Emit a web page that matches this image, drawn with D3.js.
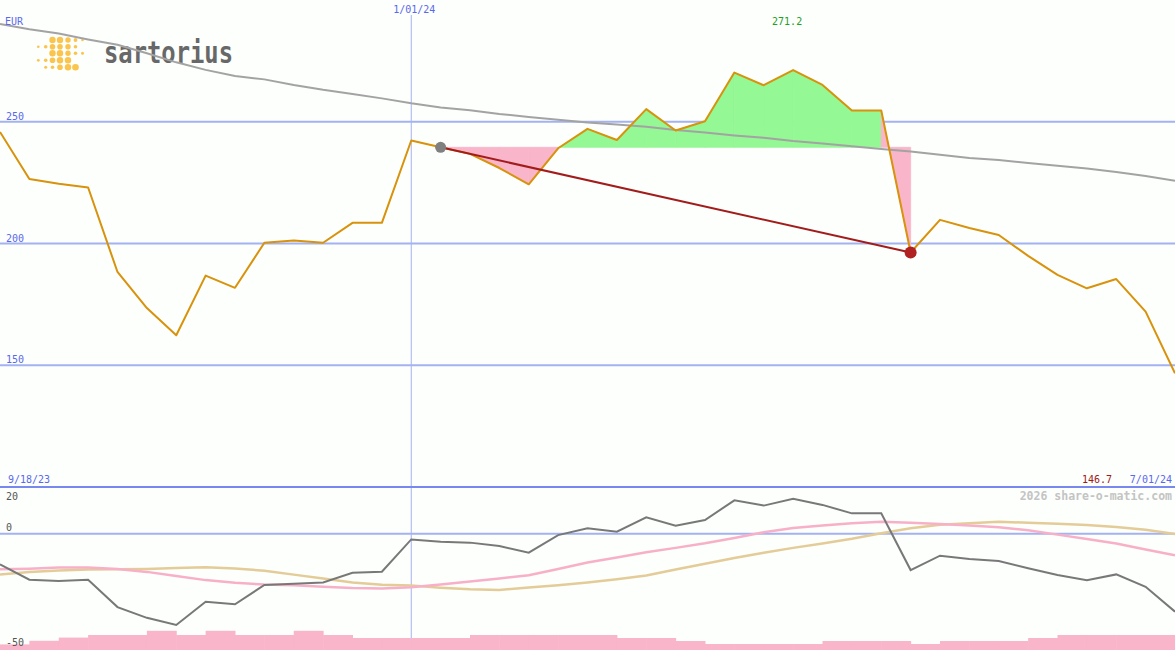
<!DOCTYPE html>
<html>
<head>
<meta charset="utf-8">
<script src="https://cdn.jsdelivr.net/npm/d3@7"></script>
<style>
  html, body { margin: 0; padding: 0; background: #fcfffc; }
  svg { display: block; }
  text { font-family: "DejaVu Sans Mono", monospace; }
</style>
</head>
<body>
<svg id="chart" width="1175" height="650"></svg>
<script>
// ---------------- DATA ----------------
const startDate = "2023-09-25";           // first weekly close
const weeks = 41;                          // weekly closes up to 2024-07-01
const price = [245.8, 226.5, 224.5, 223.0, 188.3, 173.5, 162.3, 186.8, 181.8, 200.3,
               201.2, 200.3, 208.5, 208.5, 242.3, 239.5, 236.8, 231.0, 224.3, 239.1,
               247.1, 242.5, 255.2, 246.4, 250.2, 270.2, 265.0, 271.2, 265.1, 254.6,
               254.6, 196.3, 209.7, 206.4, 203.5, 194.9, 187.1, 181.6, 185.4, 172.0, 146.7];
const movingAvg = [290.1, 288.0, 286.2, 283.8, 281.6, 278.1, 274.4, 271.3, 268.8, 267.4,
                   265.1, 263.1, 261.4, 259.6, 257.6, 255.9, 254.7, 253.2, 252.0, 250.8,
                   249.7, 248.9, 247.9, 246.6, 245.6, 244.4, 243.4, 242.1, 241.1, 239.9,
                   238.8, 237.8, 236.4, 235.1, 234.3, 233.1, 231.9, 230.8, 229.4, 227.7, 225.8];
const oscillator = [-13.4, -20.1, -20.7, -20.1, -32.1, -36.8, -39.9, -29.8, -30.9, -22.4,
                    -21.9, -21.3, -17.1, -16.6, -2.5, -3.5, -3.9, -5.4, -8.3, -0.6,
                    2.4, 0.9, 7.2, 3.5, 6.0, 14.6, 12.3, 15.3, 12.6, 8.9,
                    8.9, -15.9, -9.6, -11.1, -11.9, -15.1, -18.1, -20.3, -17.8, -23.2, -34.1];
const signalFast = [-15.6, -15.3, -14.8, -14.8, -15.4, -16.7, -18.5, -20.3, -21.5, -22.2,
                    -22.6, -23.2, -23.8, -24.0, -23.4, -22.2, -20.9, -19.6, -18.2, -15.4,
                    -12.6, -10.4, -8.1, -6.2, -4.2, -1.9, 0.6, 2.5, 3.6, 4.6,
                    5.2, 4.8, 4.2, 3.6, 2.8, 1.5, -0.4, -2.3, -4.3, -6.9, -9.4];
const signalSlow = [-17.8, -16.8, -16.1, -15.7, -15.6, -15.4, -15.0, -14.7, -15.2, -16.2,
                    -17.9, -19.6, -21.3, -22.3, -22.7, -23.6, -24.3, -24.6, -23.5, -22.5,
                    -21.3, -19.9, -18.3, -15.7, -13.1, -10.6, -8.3, -6.2, -4.3, -2.2,
                    0.2, 2.4, 3.9, 4.6, 5.2, 4.8, 4.4, 3.8, 2.9, 1.7, -0.1];
const volume = [28, 46, 62, 75, 75, 96, 75, 96, 75, 75,
                96, 75, 60, 60, 60, 60, 75, 75, 75, 75,
                75, 60, 60, 45, 30, 30, 30, 30, 45, 45,
                45, 30, 45, 45, 45, 60, 75, 75, 75, 75];
const priceTicks = [250, 200, 150];
const oscTicks = [20, 0, -50];
const markerDate = "2024-01-01";
const markerLabel = "1/01/24";
const startLabel = "9/18/23";
const endLabel = "7/01/24";
const currency = "EUR";
const fromIndex = 15, toIndex = 31;
const brandName = "sartorius";
const credit = "2026 share-o-matic.com";

// ---------------- SETUP ----------------
const W = 1175, H = 650;
const svg = d3.select("#chart");
const parse = d3.utcParse("%Y-%m-%d");
const t0 = parse(startDate);
const dates = d3.range(weeks).map(i => d3.utcDay.offset(t0, i * 7));

const x = d3.scaleUtc().domain([dates[0], dates[weeks - 1]]).range([0, W]);
const y = d3.scaleLinear().domain([100, 300]).range([487, 0]);
const y2 = d3.scaleLinear().domain([-50, 20]).range([648, 488]);
const yv = d3.scaleLinear().domain([0, 100]).range([650, 630]);

svg.append("rect").attr("width", W).attr("height", H).attr("fill", "#fcfffc");

const blue = "#5a68ee";
const grid = "#a4b2f2";

// ---------- logo ----------
const logo = svg.append("g");
const dotCols = [38.3, 45.7, 52.5, 60, 68, 75.5, 82.5];
const dotRows = [40, 46.7, 53.3, 60.3, 67.3];
const dotPattern = [
  [0, 0, 3.2, 3.2, 2.7, 1.9, 1.3],
  [1.3, 1.8, 2.8, 2.8, 2.7, 1.8, 0],
  [0, 0, 3.2, 3.2, 2.7, 1.8, 1.5],
  [1.4, 1.8, 2.8, 3.2, 3.2, 0, 0],
  [0, 1.5, 1.8, 2.8, 3.2, 3.3, 0]
];
dotPattern.forEach((row, r) => {
  row.forEach((rad, c) => {
    if (rad > 0) logo.append("circle").attr("cx", dotCols[c]).attr("cy", dotRows[r]).attr("r", rad).attr("fill", "#fbc44c");
  });
});
logo.append("text").attr("x", 104).attr("y", 63).text(brandName)
  .attr("font-family", "Roboto, 'Open Sans', sans-serif").attr("font-weight", 700)
  .attr("font-size", 31).attr("fill", "#686868")
  .attr("textLength", 129).attr("lengthAdjust", "spacingAndGlyphs");

// ---------- grid ----------
svg.selectAll(".pgrid").data(priceTicks).enter().append("line")
  .attr("x1", 0).attr("x2", W).attr("y1", d => y(d)).attr("y2", d => y(d))
  .attr("stroke", grid).attr("stroke-width", 2);
svg.selectAll(".plab").data(priceTicks).enter().append("text")
  .attr("x", 6).attr("y", d => y(d) - 2).text(d => d)
  .attr("font-size", 10).attr("fill", blue);

const mx = x(parse(markerDate));
svg.append("line").attr("x1", mx).attr("x2", mx).attr("y1", 15).attr("y2", H)
  .attr("stroke", grid).attr("stroke-width", 1);

// separator
svg.append("line").attr("x1", 0).attr("x2", W).attr("y1", 487).attr("y2", 487)
  .attr("stroke", "#7888ee").attr("stroke-width", 2);

// ---------- fills ----------
const ref = price[fromIndex];
const area = d3.area().x(d => x(dates[d])).y0(y(ref)).y1(d => y(price[d]));
for (let i = fromIndex; i < toIndex; i++) {
  const mean = (price[i] + price[i + 1]) / 2;
  const col = mean >= ref ? "#94f894" : "#f9b5c9";
  svg.append("path").datum([i, i + 1]).attr("d", area)
    .attr("fill", col).attr("stroke", col).attr("stroke-width", 0.8);
}

// ---------- lines ----------
const idx = d3.range(weeks);
const lineOf = (arr, sc) => d3.line().x(i => x(dates[i])).y(i => sc(arr[i]));

svg.append("path").datum(idx).attr("d", lineOf(movingAvg, y))
  .attr("fill", "none").attr("stroke", "#a3a3a3").attr("stroke-width", 2);
svg.append("path").datum(idx).attr("d", lineOf(price, y))
  .attr("fill", "none").attr("stroke", "#d8920c").attr("stroke-width", 2)
  .attr("stroke-linejoin", "round");

svg.append("line")
  .attr("x1", x(dates[fromIndex])).attr("y1", y(price[fromIndex]))
  .attr("x2", x(dates[toIndex])).attr("y2", y(price[toIndex]))
  .attr("stroke", "#a31c1c").attr("stroke-width", 2);
svg.append("circle").attr("cx", x(dates[fromIndex])).attr("cy", y(price[fromIndex])).attr("r", 5.5).attr("fill", "#808080");
svg.append("circle").attr("cx", x(dates[toIndex])).attr("cy", y(price[toIndex])).attr("r", 6).attr("fill", "#b02222");

// ---------- top labels ----------
svg.append("text").attr("x", 5).attr("y", 25).text(currency).attr("font-size", 10).attr("fill", blue);
svg.append("text").attr("x", mx + 3).attr("y", 13).attr("text-anchor", "middle").text(markerLabel).attr("font-size", 10).attr("fill", blue);
const maxI = d3.maxIndex(price);
svg.append("text").attr("x", x(dates[maxI]) - 6).attr("y", 25).attr("text-anchor", "middle")
  .text(price[maxI].toFixed(1)).attr("font-size", 10).attr("fill", "#22a022");

svg.append("text").attr("x", 8).attr("y", 483).text(startLabel).attr("font-size", 10).attr("fill", blue);
svg.append("text").attr("x", 1172).attr("y", 483).attr("text-anchor", "end").text(endLabel).attr("font-size", 10).attr("fill", blue);
svg.append("text").attr("x", 1112).attr("y", 483).attr("text-anchor", "end")
  .text(price[weeks - 1].toFixed(1)).attr("font-size", 10).attr("fill", "#a01818");

// ---------- lower panel ----------
svg.append("line").attr("x1", 0).attr("x2", W).attr("y1", y2(0)).attr("y2", y2(0))
  .attr("stroke", grid).attr("stroke-width", 2);
svg.append("text").attr("x", 1172).attr("y", 500).attr("text-anchor", "end").text(credit)
  .attr("font-size", 11.5).attr("font-weight", "bold").attr("fill", "#c4c4c4");

svg.append("path").datum(idx).attr("d", lineOf(signalSlow, y2))
  .attr("fill", "none").attr("stroke", "#e4cc98").attr("stroke-width", 2.5);
svg.append("path").datum(idx).attr("d", lineOf(signalFast, y2))
  .attr("fill", "none").attr("stroke", "#f8b0c8").attr("stroke-width", 2.5);
svg.append("path").datum(idx).attr("d", lineOf(oscillator, y2))
  .attr("fill", "none").attr("stroke", "#787878").attr("stroke-width", 2);

svg.selectAll(".vol").data(volume).enter().append("rect")
  .attr("x", (d, i) => x(dates[i]))
  .attr("width", (d, i) => x(dates[i + 1]) - x(dates[i]) + 0.5)
  .attr("y", d => yv(d)).attr("height", d => yv(0) - yv(d))
  .attr("fill", "#f9b5c9");

const oscLabelY = { "20": 500, "0": y2(0) - 2.5, "-50": 646 };
svg.selectAll(".olab").data(oscTicks).enter().append("text")
  .attr("x", 6).attr("y", d => oscLabelY[String(d)]).text(d => d)
  .attr("font-size", 10).attr("fill", "#555");
</script>
</body>
</html>
